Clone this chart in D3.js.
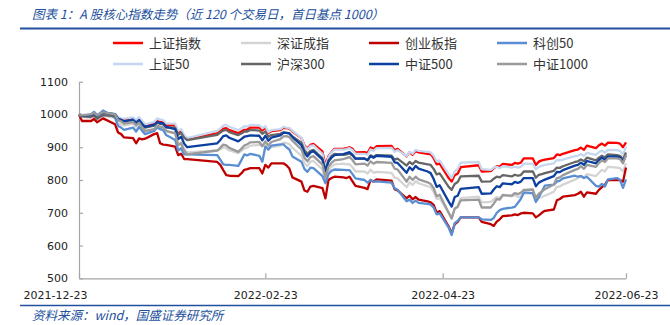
<!DOCTYPE html>
<html><head><meta charset="utf-8">
<script src="https://cdn.jsdelivr.net/npm/d3@7"></script>
<style>
html,body{margin:0;padding:0;background:#fff;}
svg{display:block;}
</style></head><body>
<svg id="chart" width="670" height="325"></svg>
<script>
// ---------- DATA ----------
const dates = [
"2021-12-23","2021-12-24","2021-12-27","2021-12-28","2021-12-29","2021-12-30","2021-12-31",
"2022-01-04","2022-01-05","2022-01-06","2022-01-07","2022-01-10","2022-01-11","2022-01-12","2022-01-13","2022-01-14","2022-01-17","2022-01-18","2022-01-19","2022-01-20","2022-01-21","2022-01-24","2022-01-25","2022-01-26","2022-01-27","2022-01-28",
"2022-02-07","2022-02-08","2022-02-09","2022-02-10","2022-02-11","2022-02-14","2022-02-15","2022-02-16","2022-02-17","2022-02-18","2022-02-21","2022-02-22","2022-02-23","2022-02-24","2022-02-25","2022-02-28",
"2022-03-01","2022-03-02","2022-03-03","2022-03-04","2022-03-07","2022-03-08","2022-03-09","2022-03-10","2022-03-11","2022-03-14","2022-03-15","2022-03-16","2022-03-17","2022-03-18","2022-03-21","2022-03-22","2022-03-23","2022-03-24","2022-03-25","2022-03-28","2022-03-29","2022-03-30","2022-03-31",
"2022-04-01","2022-04-06","2022-04-07","2022-04-08","2022-04-11","2022-04-12","2022-04-13","2022-04-14","2022-04-15","2022-04-18","2022-04-19","2022-04-20","2022-04-21","2022-04-22","2022-04-25","2022-04-26","2022-04-27","2022-04-28","2022-04-29",
"2022-05-05","2022-05-06","2022-05-09","2022-05-10","2022-05-11","2022-05-12","2022-05-13","2022-05-16","2022-05-17","2022-05-18","2022-05-19","2022-05-20","2022-05-23","2022-05-24","2022-05-25","2022-05-26","2022-05-27","2022-05-30","2022-05-31",
"2022-06-01","2022-06-02","2022-06-06","2022-06-07","2022-06-08","2022-06-09","2022-06-10","2022-06-13","2022-06-14","2022-06-15","2022-06-16","2022-06-17","2022-06-20","2022-06-21","2022-06-22","2022-06-23"
];

const seriesNames = ["上证指数","深证成指","创业板指","科创50","上证50","沪深300","中证500","中证1000"];

const shIndex = [1000,993,992,996,987,993,999,
997,987,984,983,986,979,987,976,967,972,980,977,976,967,967,943,949,932,924,
943,949,957,958,952,943,948,953,954,960,960,951,960,943,949,952,
959,958,957,948,928,906,896,907,910,887,845,873,885,895,896,897,900,895,884,885,882,899,895,
903,904,891,895,872,885,877,888,884,880,879,867,848,850,806,795,815,819,839,
845,826,827,836,842,841,849,846,852,850,853,866,866,846,856,860,862,867,878,
876,880,891,893,899,892,905,897,906,911,905,914,913,911,900,915];

const szComponent = [1000,993,992,996,986,991,996,
990,973,970,966,972,963,972,958,948,954,963,960,958,948,943,910,915,894,884,
890,894,900,897,890,882,889,896,899,905,907,906,906,892,900,905,
914,913,909,898,874,852,842,856,858,832,795,828,840,848,850,848,848,839,826,826,820,831,822,
825,822,807,805,778,793,785,796,790,781,778,763,742,744,700,686,711,720,745,
749,732,733,741,748,745,755,750,754,748,750,760,759,738,746,748,752,764,780,
780,786,801,806,813,807,818,812,822,831,826,840,838,836,826,851];

const chinext = [1000,980,980,986,976,982,988,
970,945,940,930,928,912,927,924,926,940,943,912,908,907,902,876,880,864,864,
855,846,830,815,813,812,820,831,833,836,836,820,846,838,851,851,
851,845,835,808,795,768,764,780,782,775,744,800,806,810,808,806,810,796,782,776,772,800,795,
802,798,772,768,744,752,741,748,740,735,732,724,700,705,658,637,665,672,686,
686,672,665,660,673,680,690,692,695,693,698,700,698,686,692,700,706,710,738,
742,749,754,758,764,749,762,758,770,778,786,800,800,800,795,838];

const star50 = [1000,996,1000,1008,998,1004,1012,
990,965,960,953,960,948,962,950,940,950,960,955,952,937,922,890,897,878,878,
876,862,848,846,846,843,860,878,875,880,874,856,902,893,905,909,
909,900,893,872,856,834,825,838,836,812,790,818,828,832,831,830,830,818,805,800,792,800,795,
796,792,775,770,735,740,730,737,730,727,725,716,695,698,655,632,668,675,686,
686,680,678,684,700,708,712,716,718,730,742,762,760,733,748,765,783,786,795,
798,805,813,810,812,806,810,782,780,788,780,802,806,800,776,802];

const sse50 = [1000,994,993,998,989,995,1000,
1002,992,988,987,991,983,992,980,970,977,988,985,983,973,972,950,955,937,928,
950,957,966,968,962,952,958,964,963,968,967,958,964,946,952,955,
962,960,959,950,929,904,893,904,906,880,838,870,884,893,893,894,897,891,880,880,877,893,889,
897,898,886,891,873,886,880,892,889,886,884,874,857,860,818,806,826,834,853,
855,833,831,838,840,836,842,838,841,838,840,850,849,833,840,843,846,851,861,
860,862,873,874,879,873,883,877,885,890,883,892,891,889,878,902];

const csi300 = [1000,994,993,997,987,993,998,
995,983,980,978,981,973,981,969,960,966,975,971,970,960,960,938,944,929,922,
938,945,951,953,946,937,942,948,948,953,951,941,948,932,937,941,
946,944,942,933,914,891,880,889,892,866,828,860,872,880,877,878,881,875,865,865,861,875,871,
876,874,862,865,844,855,848,858,853,848,846,834,817,820,779,770,788,794,811,
813,795,796,804,810,808,815,811,816,813,815,826,826,807,816,818,821,828,838,
837,842,855,857,863,857,868,860,868,874,869,878,876,874,863,884];

const csi500 = [1000,997,998,1003,995,1001,1006,
1001,987,984,979,984,975,983,971,962,968,977,974,973,962,955,925,932,911,900,
912,922,934,936,929,918,925,932,934,936,935,921,935,920,929,936,
944,944,942,931,906,883,872,884,888,862,825,856,868,876,879,882,885,877,865,866,860,873,868,
874,871,854,852,822,839,830,843,835,826,821,803,779,784,734,719,748,752,773,
778,758,759,771,781,778,790,787,794,791,795,806,806,781,792,797,801,812,825,
824,830,844,846,853,846,858,851,861,868,862,872,871,869,855,876];

const csi1000 = [1000,998,1000,1005,997,1002,1007,
1000,983,979,972,977,967,975,960,950,955,966,963,961,950,942,906,912,889,878,
890,898,908,906,898,886,895,905,909,915,916,903,918,905,916,925,
933,934,931,920,893,868,857,870,873,847,808,840,852,860,864,867,870,861,848,850,844,857,850,
855,852,835,832,795,810,800,810,802,793,788,775,750,755,700,682,713,718,738,
740,716,716,728,742,740,754,752,760,757,761,770,771,745,758,765,772,786,806,
808,815,831,834,842,834,846,840,852,860,855,866,866,864,851,876];

const yTickValues = [500,600,700,800,900,1000,1100];
const xTickLabels = ["2021-12-23","2022-02-23","2022-04-23","2022-06-23"];

const titleText = "图表 1：A 股核心指数走势（近 120 个交易日，首日基点 1000）";
const sourceText = "资料来源：wind，国盛证券研究所";

// ---------- STYLE ----------
const seriesValues = [shIndex, szComponent, chinext, star50, sse50, csi300, csi500, csi1000];
const seriesColors = ["#FF0000","#D4D4D4","#C00000","#5A8ED2","#C5D8F0","#666666","#0B3FA0","#9A9A9A"];
const blue = "#22509C";
const fontLatin = "'DejaVu Sans','Noto Sans CJK SC',sans-serif";
const fontCJK = "'Noto Sans CJK SC','DejaVu Sans',sans-serif";

// ---------- DRAW ----------
const svg = d3.select("#chart");
const parse = d3.timeParse("%Y-%m-%d");
const dateObjs = dates.map(parse);

const x = d3.scaleTime()
  .domain([parse("2021-12-23"), parse("2022-06-23")])
  .range([79, 626]);
const y = d3.scaleLinear().domain([500, 1100]).range([278.3, 81.7]);

// title
svg.append("text")
  .attr("x", 32).attr("y", 18.5)
  .attr("font-family", fontCJK).attr("font-size", 12.5)
  .attr("font-style", "italic").attr("fill", blue)
  .text(titleText);
svg.append("line").attr("x1", 20).attr("x2", 670).attr("y1", 28.5).attr("y2", 28.5)
  .attr("stroke", blue).attr("stroke-width", 2);

// legend
const leg = svg.append("g");
seriesNames.forEach((name, i) => {
  const col = i % 4, row = Math.floor(i / 4);
  const lx = 113 + col * 128, ly = 43 + row * 21;
  leg.append("line").attr("x1", lx).attr("x2", lx + 30).attr("y1", ly).attr("y2", ly)
    .attr("stroke", seriesColors[i]).attr("stroke-width", 2.5);
  leg.append("text").attr("x", lx + 36).attr("y", ly).attr("dy", "0.36em")
    .attr("font-family", fontCJK).attr("font-size", 13).attr("fill", "#333")
    .text(name);
});

// axes
const yAxis = d3.axisLeft(y).tickValues(yTickValues).tickSize(-4).tickSizeOuter(0)
  .tickPadding(11).tickFormat(d3.format("d"));
const gy = svg.append("g").attr("transform", "translate(79,0)").call(yAxis);
gy.selectAll("path,line").attr("stroke", "#A6A6A6").attr("stroke-width", 1.2);
gy.selectAll("text").attr("font-family", fontLatin).attr("font-size", 11).attr("fill", "#222");

const xAxis = d3.axisBottom(x).tickValues(xTickLabels.map(parse)).tickSize(-5).tickSizeOuter(0)
  .tickPadding(13).tickFormat(d3.timeFormat("%Y-%m-%d"));
const gx = svg.append("g").attr("transform", "translate(0,278.3)").call(xAxis);
gx.selectAll("path,line").attr("stroke", "#A6A6A6").attr("stroke-width", 1.2);
gx.selectAll("text").attr("font-family", fontLatin).attr("font-size", 11).attr("fill", "#222");
gx.selectAll(".tick text").filter((d, i) => i === 0).attr("dx", -24);

// lines
const lineGen = d3.line().x((d, i) => x(dateObjs[i])).y(d => y(d));
svg.append("g").selectAll("path").data(seriesValues).join("path")
  .attr("d", d => lineGen(d))
  .attr("fill", "none")
  .attr("stroke", (d, i) => seriesColors[i])
  .attr("stroke-width", 2.3)
  .attr("stroke-linejoin", "round");

// bottom rule and source
svg.append("line").attr("x1", 20).attr("x2", 670).attr("y1", 305.5).attr("y2", 305.5)
  .attr("stroke", blue).attr("stroke-width", 1.5);
svg.append("text")
  .attr("x", 32).attr("y", 320)
  .attr("font-family", fontCJK).attr("font-size", 12.5)
  .attr("font-style", "italic").attr("fill", blue)
  .text(sourceText);
</script>
</body></html>
